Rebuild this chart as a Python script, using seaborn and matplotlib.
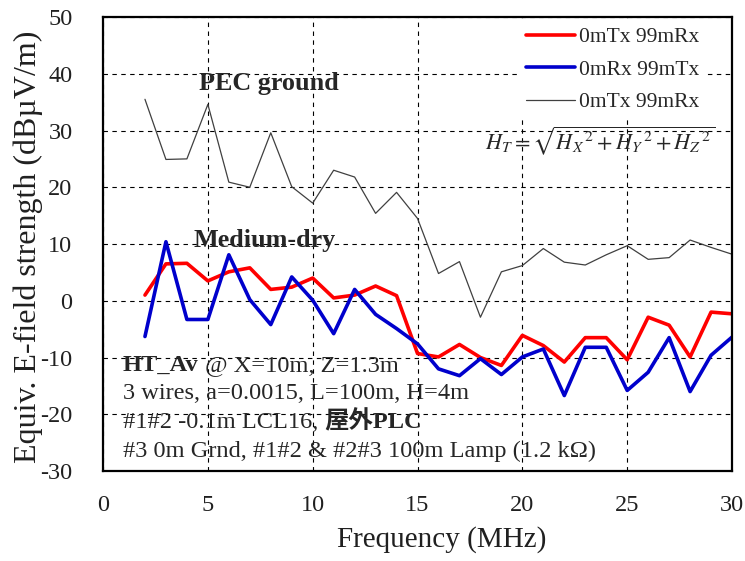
import seaborn as sns
import matplotlib.pyplot as plt
import numpy as np

# data (frequency in MHz, field in dBuV/m)
freq = list(range(2, 31))
red_tx_rx = [1.0, 6.5, 6.6, 3.5, 5.1, 5.8, 2.0, 2.4, 4.0, 0.5, 1.0, 2.6, 0.9,
             -9.3, -9.9, -7.7, -10.0, -11.4, -6.1, -7.9, -10.8, -6.5, -6.5,
             -10.4, -2.9, -4.3, -9.9, -2.0, -2.3]
blue_rx_tx = [-6.3, 10.4, -3.3, -3.3, 8.1, 0.2, -4.2, 4.2, 0.1, -5.8, 2.0,
              -2.4, -4.9, -7.6, -12.0, -13.2, -10.2, -13.0, -9.9, -8.5, -16.7,
              -8.2, -8.2, -15.8, -12.6, -6.5, -16.0, -9.6, -6.4]
gray_pec = [35.5, 24.9, 25.0, 34.6, 20.9, 20.0, 29.6, 20.1, 17.2, 23.0, 21.8,
            15.4, 19.1, 14.5, 4.8, 6.9, -2.9, 5.1, 6.2, 9.2, 6.8, 6.3, 8.1,
            9.7, 7.3, 7.6, 10.7, 9.4, 8.2]
labels = ["0mTx 99mRx", "0mRx 99mTx", "0mTx 99mRx"]

sns.set_style("white")
plt.rcParams["font.family"] = ["Liberation Serif", "Noto Sans CJK JP"]
plt.rcParams["mathtext.fontset"] = "stix"
plt.rcParams["axes.unicode_minus"] = False

fig = plt.figure(figsize=(7.45, 5.61), dpi=100)
ax = fig.add_axes([0.1383, 0.1604, 0.8443, 0.8093])

sns.lineplot(x=freq, y=red_tx_rx, color="#ff0000", lw=2.6, label=labels[0], ax=ax)
sns.lineplot(x=freq, y=blue_rx_tx, color="#0000cc", lw=2.6, label=labels[1], ax=ax)
sns.lineplot(x=freq, y=gray_pec, color="#404040", lw=0.9, label=labels[2], ax=ax)

ax.set_xlim(0, 30)
ax.set_ylim(-30, 50)
ax.set_xticks(np.arange(0, 31, 5))
ax.set_yticks(np.arange(-30, 51, 10))
ax.grid(True, color="black", ls=(0, (4, 4)), lw=0.8)
ax.tick_params(length=0, labelsize=17.5, colors="#202020")
ax.tick_params(axis="x", pad=17)
ax.tick_params(axis="y", pad=22)
for s in ax.spines.values():
    s.set_color("black")
    s.set_linewidth(1.6)

ax.set_xlabel("Frequency (MHz)", fontsize=21, color="#202020")
ax.set_ylabel("Equiv. E-field strength (dB\u00b5V/m)", fontsize=23, color="#202020")
ax.xaxis.set_label_coords(0.539, -0.122)
ax.yaxis.set_label_coords(-0.095, 0.493)

leg = ax.legend(loc="upper left", bbox_to_anchor=(0.662, 0.992), fontsize=15.5,
                handlelength=2.3, handletextpad=0.15, labelspacing=0.58,
                borderpad=0.3, borderaxespad=0, frameon=True, facecolor="white",
                edgecolor="none", framealpha=1)

ax.text(7.92, 38.3, "PEC ground", fontsize=18.8, fontweight="bold", ha="center", va="center")
ax.text(7.73, 10.7, "Medium-dry", fontsize=18.8, fontweight="bold", ha="center", va="center")
ax.text(23.7, 28.2, r"$H_T=\sqrt{H_X{}^{\,2}+H_Y{}^{\,2}+H_Z{}^{\,2}}$", fontsize=16,
        ha="center", va="center")

fs = 17.6
t1 = ax.text(0.95, -11.4, "HT_Av", fontsize=fs, fontweight="bold", va="center")
ax.annotate(" @ X=10m, Z=1.3m", xy=(1, 0), xycoords=t1, va="bottom", fontsize=fs)
ax.text(0.95, -16.4, "3 wires, a=0.0015, L=100m, H=4m", fontsize=fs, va="center")
t3 = ax.text(0.95, -21.5, "#1#2 -0.1m LCL16, ", fontsize=fs, va="center")
ax.annotate("屋外PLC", xy=(1, 0), xycoords=t3, va="bottom", fontsize=fs, fontweight="bold")
ax.text(0.95, -26.5, "#3 0m Grnd, #1#2 & #2#3 100m Lamp (1.2 k\u03a9)", fontsize=fs, va="center")

plt.savefig("out.png", dpi=100)
